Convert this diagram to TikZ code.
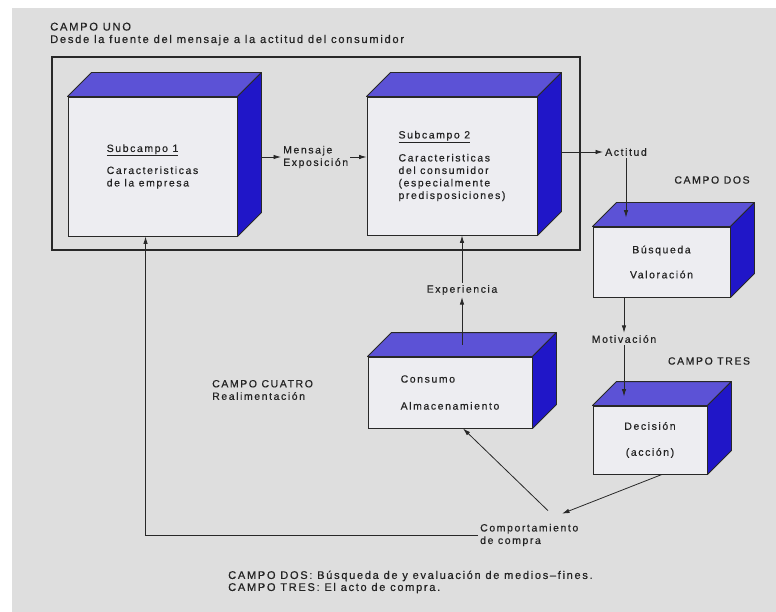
\documentclass[tikz,border=0pt]{standalone}
\usepackage{fontspec}
\setmainfont{Liberation Sans}[LetterSpace=15, FakeBold=0.5]
\usetikzlibrary{arrows.meta,calc}

\definecolor{fondo}{RGB}{222,222,222}
\definecolor{cara}{RGB}{237,237,241}
\definecolor{techo}{RGB}{92,82,214}
\definecolor{lado}{RGB}{32,22,200}
\definecolor{linea}{RGB}{40,40,40}
\definecolor{texto}{RGB}{35,35,35}

\begin{document}
\begin{tikzpicture}[x=1pt, y=-1pt,
        every node/.style={font=\fontsize{10.5}{12.5}\selectfont, text=texto, inner sep=2pt},
        frente/.style={draw=linea, fill=cara, line width=0.9pt, inner sep=0pt},
        flecha/.style={draw=linea, line width=0.8pt, -{Latex[length=7.5pt,width=4.5pt]}},
        linea/.style={draw=linea, line width=0.8pt}]
        \useasboundingbox (0,0) rectangle (776,612);
        \fill[white] (0,0) rectangle (776,612);
        \fill[fondo] (12,8) rectangle (776,612);

        % campo uno
        \node[anchor=west, align=left, font=\fontsize{11.2}{12.5}\selectfont] (campouno) at (48,34)
            {CAMPO UNO\\Desde la fuente del mensaje a la actitud del consumidor};
        \draw[linea, line width=1.1pt] (52,57) rectangle (580,250);

        % cajas
        \node[frente, minimum width=169pt, minimum height=139pt, align=left] (sub1) at (152.5,166.5)
            {\underline{Subcampo 1}\\[9.5pt]Caracteristicas\\de la empresa};
        \node[frente, minimum width=170pt, minimum height=138pt, align=left] (sub2) at (452,166)
            {\underline{Subcampo 2}\\[10.5pt]Caracteristicas\\del consumidor\\(especialmente\\predisposiciones)};
        \node[frente, minimum width=137pt, minimum height=70pt, align=center] (busq) at (661.5,262)
            {Búsqueda\\[12.5pt]Valoración};
        \node[frente, minimum width=164pt, minimum height=71pt, align=left] (consumo) at (450,392.5)
            {Consumo\\[14.5pt]Almacenamiento};
        \node[frente, minimum width=114pt, minimum height=68pt, align=center] (decision) at (650,440)
            {Decisión\\[13.5pt](acción)};

        \foreach \c in {sub1,sub2,busq,consumo,decision} {
            \filldraw[draw=linea, fill=techo, line width=0.9pt, line join=round]
                (\c.north west) -- ++(24,-24) -- ($(\c.north east)+(24,-24)$) -- (\c.north east) -- cycle;
            \filldraw[draw=linea, fill=lado, line width=0.9pt, line join=round]
                (\c.north east) -- ++(24,-24) -- ($(\c.south east)+(24,-24)$) -- (\c.south east) -- cycle;
        }

        % textos sueltos
        \node[anchor=west, align=left] (mensaje) at (281,157) {Mensaje\\Exposición};
        \node (actitud) at (626,152) {Actitud};
        \node (campodos) at (712,180) {CAMPO DOS};
        \node (exper) at (462,290) {Experiencia};
        \node (motiv) at (624,339) {Motivación};
        \node (campotres) at (709,361) {CAMPO TRES};
        \node[anchor=west, align=left] (campocuatro) at (210,390) {CAMPO CUATRO\\Realimentación};
        \node[anchor=west, align=left] (comp) at (478,535) {Comportamiento\\de compra};
        \node[anchor=west, align=left, font=\fontsize{11.1}{12}\selectfont] (nota) at (226,582)
            {CAMPO DOS: Búsqueda de y evaluación de medios–fines.\\CAMPO TRES: El acto de compra.};

        % puntos de llegada
        \coordinate (t3) at ($(busq.north)+(0,-9)$);
        \coordinate (t4) at ($(consumo.north)+(0,-12)$);
        \coordinate (t5) at ($(decision.north)+(0,-9)$);
        \coordinate (llega) at ($(comp.north west)+(84,-8)$);
        \coordinate (sale) at ($(comp.north west)+(70,-11)$);

        % flechas
        \draw[flecha] ($(sub1.east |- mensaje)+(24,0)$) -- (mensaje.west);
        \draw[flecha] (mensaje.east) -- (sub2.west |- mensaje);
        \draw[flecha] ($(sub2.east |- actitud)+(24,0)$) -- (actitud.west);
        \draw[flecha] (actitud.south) -- (actitud.south |- t3);
        \draw[flecha] (motiv.north |- busq.south) -- (motiv.north);
        \draw[flecha] (motiv.south) -- (motiv.south |- t5);
        \draw[flecha] ($(decision.south)+(12,0)$) -- (llega);
        \draw[flecha] (sale) -- ($(consumo.south)+(13,0)$);
        \draw[flecha] (exper.south |- t4) -- (exper.south);
        \draw[flecha] (exper.north) -- (exper.north |- sub2.south);
        \draw[flecha] (comp.west) -| ($(sub1.south west)+(78,0)$);
\end{tikzpicture}
\end{document}
